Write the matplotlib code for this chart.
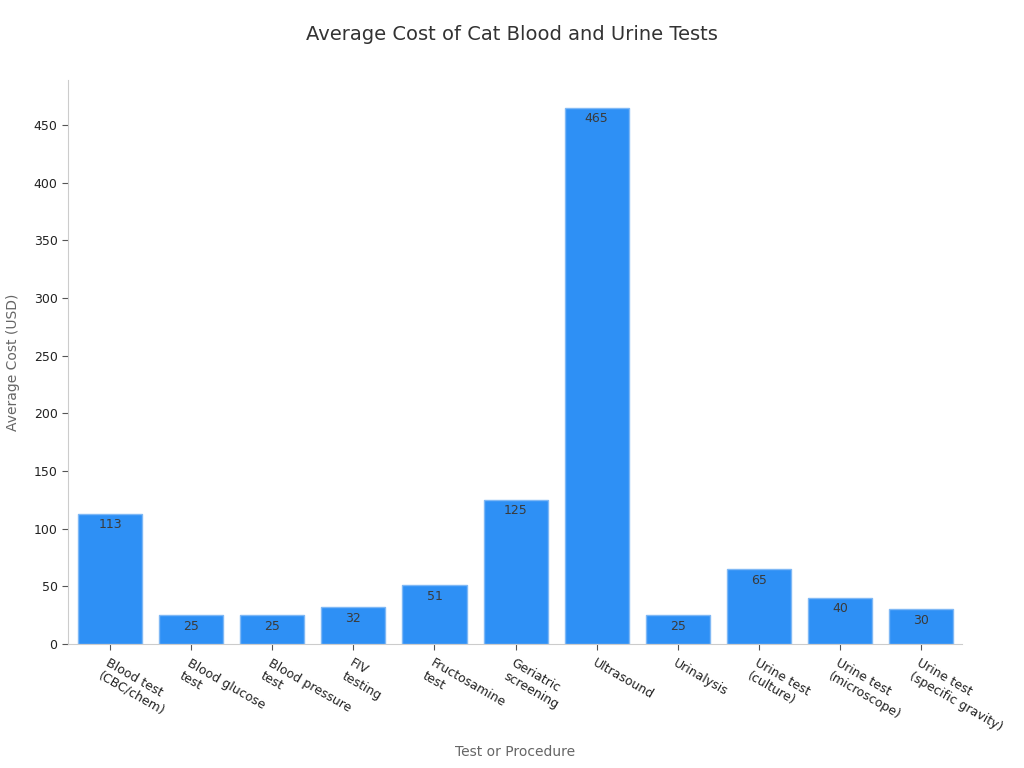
import matplotlib.pyplot as plt
import numpy as np

# Data
tests = ['Blood test\n(CBC/chem)', 'Blood glucose\ntest', 'Blood pressure\ntest', 'FIV\ntesting',
         'Fructosamine\ntest', 'Geriatric\nscreening', 'Ultrasound', 'Urinalysis',
         'Urine test\n(culture)', 'Urine test\n(microscope)', 'Urine test\n(specific gravity)']
costs = [113, 25, 25, 32, 51, 125, 465, 25, 65, 40, 30]

fig = plt.figure(figsize=(10.24, 7.68), dpi=100)
ax = fig.add_axes([0.0664, 0.1615, 0.8726, 0.7345])

x = np.arange(len(tests))
bars = ax.bar(x, costs, width=0.79, color='#2E90F5', edgecolor='#7FB8F5', linewidth=1)

# value labels just inside the top of each bar
for xi, v in zip(x, costs):
    ax.text(xi, v - 4, str(v), ha='center', va='top', fontsize=9, color='#3a3a3a')

ax.set_xlim(-0.52, 10.5)
ax.set_ylim(0, 489)
ax.set_yticks(np.arange(0, 451, 50))
ax.set_xticks(x)
ax.set_xticklabels(tests, rotation=-30, ha='left', rotation_mode='anchor', fontsize=9, color='#222222')
ax.tick_params(axis='y', labelsize=9, labelcolor='#222222', color='#555555', length=4)
ax.tick_params(axis='x', color='#555555', length=4, pad=5)

for s in ['top', 'right']:
    ax.spines[s].set_visible(False)
for s in ['left', 'bottom']:
    ax.spines[s].set_color('#cccccc')

ax.set_xlabel('Test or Procedure', fontsize=10, color='#666666', labelpad=8)
ax.set_ylabel('Average Cost (USD)', fontsize=10, color='#666666', labelpad=10)
fig.suptitle('Average Cost of Cat Blood and Urine Tests', fontsize=14, color='#333333', y=0.968)

fig.savefig('out.png', dpi=100)
